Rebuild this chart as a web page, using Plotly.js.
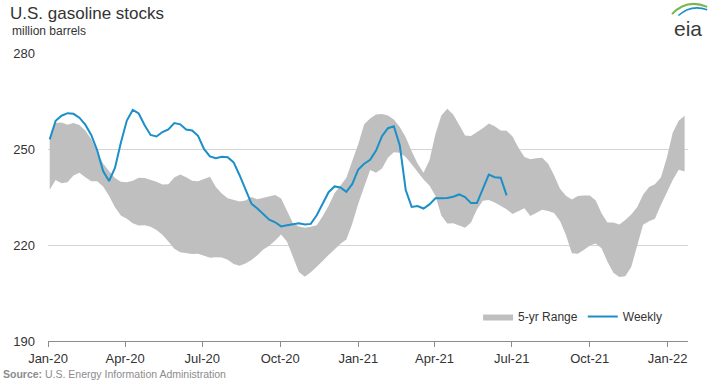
<!DOCTYPE html>
<html>
<head>
<meta charset="utf-8">
<script src="https://cdn.plot.ly/plotly-3.0.1.min.js"></script>
<style>
  html, body { margin: 0; padding: 0; background: #fff; }
  #chart { width: 719px; height: 384px; }
</style>
</head>
<body>
<div id="chart"></div>
<script>
// ---------- data ----------
const firstWeek = '2020-01-03';   // weekly observations, every Friday

// U.S. gasoline stocks, weekly, million barrels (Jan 3 2020 .. Jun 25 2021)
const weeklyValues = [
  253.0, 258.8, 260.4, 261.2, 261.0, 259.8, 257.6, 254.4, 249.6, 243.1,
  240.0, 244.1, 252.0, 258.9, 262.2, 261.1, 257.4, 254.4, 253.9, 255.3,
  256.1, 258.1, 257.7, 256.1, 255.8, 254.1, 250.0, 247.7, 247.1, 247.6,
  247.4, 245.8, 241.8, 237.4, 232.9, 231.4, 229.5, 227.9, 227.1, 225.8,
  226.2, 226.5, 226.8, 226.4, 226.6, 229.3, 233.1, 236.5, 238.3, 238.0,
  236.6, 239.1, 243.6, 245.4, 246.6, 249.5, 254.0, 256.5, 257.1, 251.1,
  237.2, 231.9, 232.2, 231.4, 232.7, 234.6, 234.6, 234.7, 235.1, 235.8,
  235.0, 233.1, 233.1, 237.6, 242.0, 241.2, 241.0, 235.5
];

// 5-year range (Jan 3 2020 .. Jan 21 2022), upper and lower bounds
const rangeHigh = [
  253.6, 258.1, 258.3, 257.6, 258.1, 257.5, 255.8, 253.1, 249.0, 245.5,
  243.1, 240.9, 239.8, 239.6, 240.1, 241.0, 240.9, 240.3, 239.8, 238.9,
  239.0, 241.1, 242.0, 241.2, 240.1, 239.9, 240.5, 241.3, 238.1, 236.1,
  234.6, 234.0, 233.6, 233.9, 235.0, 234.3, 234.8, 235.3, 235.6, 234.5,
  230.4, 226.8, 225.8, 225.4, 225.7, 226.2, 229.0, 232.3, 236.2, 238.7,
  241.0, 246.3, 251.5, 257.7, 259.5, 260.8, 260.9, 260.5, 259.2, 256.9,
  253.7, 249.3, 245.5, 242.6, 246.5, 254.6, 260.5, 262.6, 260.8, 257.6,
  254.2, 254.1, 255.2, 256.5, 258.0, 257.1, 255.8, 255.7, 253.9, 250.4,
  247.5, 246.8, 247.1, 247.3, 245.4, 241.8, 237.6, 235.4, 234.2, 235.3,
  235.5, 235.5, 234.0, 229.9, 227.0, 227.0, 226.4, 227.8, 229.5, 231.8,
  235.7, 238.1, 239.0, 241.1, 247.3, 255.1, 258.8, 260.4
];
const rangeLow = [
  237.3, 240.3, 239.3, 239.6, 241.7, 242.6, 241.2, 239.9, 239.9, 238.3,
  235.4, 231.8, 229.2, 228.2, 226.8, 226.1, 226.2, 225.7, 224.7, 223.2,
  221.1, 218.8, 217.7, 217.4, 217.2, 217.3, 216.6, 216.0, 216.2, 216.1,
  215.4, 214.1, 213.5, 214.2, 215.3, 216.8, 218.6, 219.8, 221.4, 223.3,
  221.0, 216.1, 211.6, 210.1, 211.5, 213.2, 215.2, 216.9, 218.6, 220.4,
  221.7, 226.7, 232.9, 238.1, 243.4, 242.6, 243.9, 247.3, 249.0, 248.8,
  247.5, 245.2, 242.8, 240.5, 238.6, 235.4, 229.2, 226.7, 226.8, 226.2,
  225.4, 227.0, 231.1, 233.8, 234.1, 233.3, 232.3, 231.2, 229.7, 230.5,
  231.5, 229.1, 230.1, 231.0, 230.6, 230.0, 227.5, 223.1, 217.4, 217.3,
  218.4, 219.8, 220.5, 219.0, 214.8, 211.3, 210.0, 210.2, 213.1, 219.3,
  226.3, 227.4, 228.2, 232.5, 236.6, 240.3, 243.5, 243.0
];

const yTicks = [190, 220, 250, 280];
const seriesNames = ['5-yr Range', 'Weekly'];

// ---------- helpers ----------
function weekDates(start, n) {
  const out = [];
  const d0 = new Date(start + 'T00:00:00Z');
  for (let i = 0; i < n; i++) {
    const d = new Date(d0.getTime() + i * 7 * 86400000);
    out.push(d.toISOString().slice(0, 10));
  }
  return out;
}
const rangeDates = weekDates(firstWeek, rangeHigh.length);
const weeklyDates = weekDates(firstWeek, weeklyValues.length);

const FONT = '"Liberation Sans", Arial, Helvetica, sans-serif';

const traces = [
  {
    x: rangeDates, y: rangeLow, type: 'scatter', mode: 'lines',
    line: { width: 0, color: '#bfbfbf' }, showlegend: false, hoverinfo: 'skip'
  },
  {
    x: rangeDates, y: rangeHigh, type: 'scatter', mode: 'lines',
    fill: 'tonexty', fillcolor: '#bfbfbf',
    line: { width: 0, color: '#bfbfbf' }, name: seriesNames[0], hoverinfo: 'skip'
  },
  {
    x: weeklyDates, y: weeklyValues, type: 'scatter', mode: 'lines',
    line: { width: 2, color: '#1b8fc8' }, name: seriesNames[1], hoverinfo: 'skip'
  }
];

const layout = {
  width: 719, height: 384,
  margin: { l: 48, r: 31, t: 53, b: 43, pad: 0 },
  paper_bgcolor: '#ffffff', plot_bgcolor: '#ffffff',
  font: { family: FONT, size: 13, color: '#333333' },
  showlegend: true,
  legend: {
    orientation: 'h', x: 0.672, xanchor: 'left', y: 0.085, yanchor: 'middle',
    font: { family: FONT, size: 12, color: '#333333' },
    bgcolor: 'rgba(0,0,0,0)', itemwidth: 30, traceorder: 'normal'
  },
  xaxis: {
    type: 'date',
    range: ['2020-01-01', '2022-01-25'],
    tick0: '2020-01-01', dtick: 'M3', tickformat: '%b-%y',
    showgrid: false, zeroline: false,
    showline: true, linecolor: '#8c8c8c', linewidth: 1,
    ticks: 'outside', ticklen: 5, tickcolor: '#8c8c8c', tickwidth: 1,
    tickfont: { family: FONT, size: 13, color: '#333333' },
    fixedrange: true
  },
  yaxis: {
    range: [190, 280],
    tickvals: yTicks, ticktext: yTicks.map(String),
    showgrid: true, gridcolor: '#d4d4d4', gridwidth: 1,
    zeroline: false, showline: false, ticks: '',
    ticklabelstandoff: 12,
    tickfont: { family: FONT, size: 13, color: '#333333' },
    fixedrange: true
  },
  title: {
    text: 'U.S. gasoline stocks',
    font: { family: FONT, size: 17, color: '#333333' },
    x: 10 / 719, xref: 'container', xanchor: 'left',
    y: 1 - 13 / 384, yref: 'container', yanchor: 'middle'
  },
  annotations: [
    {
      text: 'million barrels', xref: 'paper', yref: 'paper',
      x: -0.0594, y: 1.077, xanchor: 'left', yanchor: 'middle', showarrow: false,
      font: { family: FONT, size: 12, color: '#333333' }
    },
    {
      text: '<b>Source:</b> U.S. Energy Information Administration',
      xref: 'paper', yref: 'paper',
      x: -0.073, y: -0.113, xanchor: 'left', yanchor: 'middle', showarrow: false,
      font: { family: FONT, size: 10.5, color: '#8c8c8c' }
    },
    {
      text: 'eia', xref: 'paper', yref: 'paper',
      x: 1.0, y: 1.085, xanchor: 'center', yanchor: 'middle', showarrow: false,
      font: { family: FONT, size: 21, color: '#3a3a3a' }
    }
  ],
  shapes: [
    {
      type: 'path', xref: 'paper', yref: 'paper',
      path: 'M 0.975 1.135 Q 0.998 1.19 1.03 1.16',
      line: { color: '#7ab648', width: 2 }
    },
    {
      type: 'path', xref: 'paper', yref: 'paper',
      path: 'M 0.985 1.13 Q 1.005 1.17 1.03 1.15',
      line: { color: '#1b8fc8', width: 1.5 }
    }
  ]
};

Plotly.newPlot('chart', traces, layout, { displayModeBar: false, staticPlot: true });
</script>
</body>
</html>
